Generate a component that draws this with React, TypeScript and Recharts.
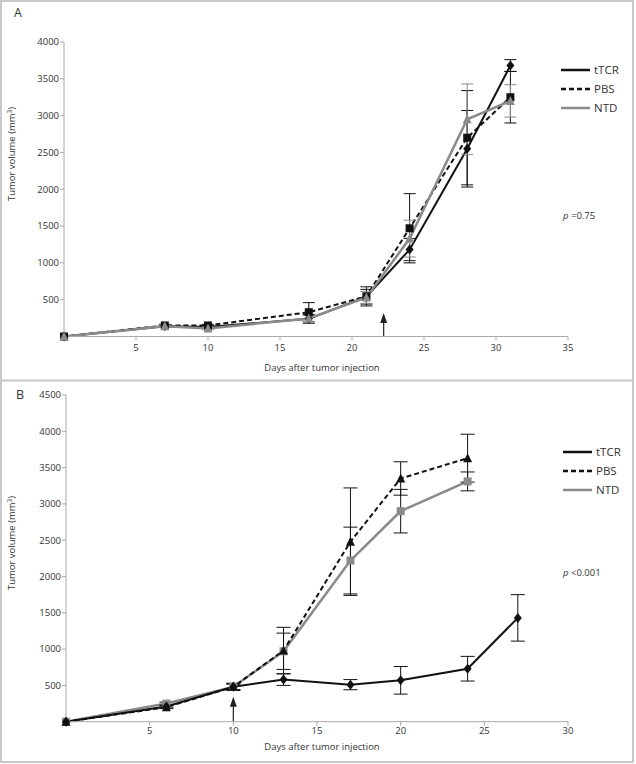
import { LineChart, Line, XAxis, YAxis, ErrorBar, ReferenceLine } from "recharts";

// Panel A
const daysA = [0, 7, 10, 17, 21, 24, 28, 31];
const tcrA = [0, 140, 130, 240, 540, 1180, 2550, 3680];
const tcrErrA = [0, 15, 15, 60, 100, 150, 520, 80];
const pbsA = [0, 150, 150, 330, 545, 1470, 2700, 3250];
const pbsErrA = [0, 15, 15, 130, 130, 470, 640, 350];
const ntdA = [0, 140, 110, 245, 530, 1330, 2950, 3200];
const ntdErrA = [0, 15, 20, 40, 80, 250, 480, 220];
const xTicksA = [5, 10, 15, 20, 25, 30, 35];
const yTicksA = [500, 1000, 1500, 2000, 2500, 3000, 3500, 4000];

// Panel B
const daysB = [0, 6, 10, 13, 17, 20, 24, 27];
const tcrB = [0, 210, 480, 580, 510, 570, 730, 1430];
const tcrErrB = [0, 20, 40, 80, 70, 190, 170, 320];
const daysB2 = [0, 6, 10, 13, 17, 20, 24];
const pbsB = [0, 200, 480, 980, 2480, 3350, 3630];
const pbsErrB = [0, 20, 40, 320, 740, 230, 330];
const ntdB = [0, 250, 480, 970, 2220, 2900, 3310];
const ntdErrB = [0, 20, 50, 250, 460, 300, 130];
const xTicksB = [5, 10, 15, 20, 25, 30];
const yTicksB = [500, 1000, 1500, 2000, 2500, 3000, 3500, 4000, 4500];

const legendNames = ["tTCR", "PBS", "NTD"];

const BLACK = "#111";
const GRAY = "#8a8a8a";
const AXIS = "#a8a8a8";
const TEXT = "#333";
const FONT = "'Open Sans', sans-serif";

const rows = (days: number[], v: number[], e: number[]) =>
  days.map((d, i) => ({ day: d, v: v[i], e: e[i] }));

const diamond = (color: string) => (p: any) => {
  const { cx, cy, index } = p;
  if (cx == null || cy == null) return <g key={`d${index}`} />;
  return (
    <path
      key={`d${index}`}
      d={`M${cx},${cy - 5}L${cx + 4},${cy}L${cx},${cy + 5}L${cx - 4},${cy}Z`}
      fill={color}
    />
  );
};
const square = (color: string) => (p: any) => {
  const { cx, cy, index } = p;
  if (cx == null || cy == null) return <g key={`s${index}`} />;
  return <rect key={`s${index}`} x={cx - 4} y={cy - 4} width={8} height={8} fill={color} />;
};
const triangle = (color: string) => (p: any) => {
  const { cx, cy, index } = p;
  if (cx == null || cy == null) return <g key={`t${index}`} />;
  return (
    <path key={`t${index}`} d={`M${cx},${cy - 5}L${cx + 4.5},${cy + 4}L${cx - 4.5},${cy + 4}Z`} fill={color} />
  );
};

const arrowShape = (p: any) => {
  const x = p.x1;
  const top = Math.min(p.y1, p.y2);
  const bottom = Math.max(p.y1, p.y2);
  return (
    <g>
      <line x1={x} y1={bottom} x2={x} y2={top + 6} stroke="#222" strokeWidth={1.2} />
      <path d={`M${x - 3.5},${top + 10}L${x},${top}L${x + 3.5},${top + 10}Z`} fill="#222" />
    </g>
  );
};

const tickStyle = { fontSize: 9.5, fill: TEXT, fontFamily: FONT };

function Legend({ x, y }: { x: number; y: number }) {
  const styles = [
    { stroke: BLACK, dash: undefined },
    { stroke: BLACK, dash: "5 3" },
    { stroke: GRAY, dash: undefined },
  ];
  return (
    <g>
      {legendNames.map((n, i) => (
        <g key={n}>
          <line
            x1={x}
            x2={x + 29}
            y1={y + i * 19}
            y2={y + i * 19}
            stroke={styles[i].stroke}
            strokeWidth={2.5}
            strokeDasharray={styles[i].dash}
          />
          <text x={x + 33} y={y + i * 19} dy="0.35em" fontSize={11.5} fill={TEXT} fontFamily={FONT}>
            {n}
          </text>
        </g>
      ))}
    </g>
  );
}

export default function App() {
  return (
    <div style={{ position: "absolute", left: 0, top: 0, width: 636, height: 764, background: "#fff" }}>
      <div style={{ position: "absolute", left: 0, top: 0 }}>
        <LineChart width={636} height={380} margin={{ top: 42, right: 68, left: 24, bottom: 13.5 }}>
          <XAxis
            type="number"
            dataKey="day"
            domain={[0, 35]}
            ticks={xTicksA}
            height={30}
            stroke={AXIS}
            tickSize={4}
            tickMargin={4}
            tick={tickStyle}
            allowDuplicatedCategory={false}
          />
          <YAxis
            type="number"
            domain={[0, 4000]}
            ticks={yTicksA}
            width={40}
            stroke={AXIS}
            tickSize={4}
            tickMargin={1}
            tick={tickStyle}
          />
          <ReferenceLine
            segment={[{ x: 22.2, y: 0 }, { x: 22.2, y: 320 }]}
            shape={arrowShape}
          />
          <Line data={rows(daysA, tcrA, tcrErrA)} dataKey="v" stroke={BLACK} strokeWidth={2} dot={diamond(BLACK)} isAnimationActive={false}>
            <ErrorBar dataKey="e" width={6} strokeWidth={1} stroke={BLACK} direction="y" />
          </Line>
          <Line data={rows(daysA, pbsA, pbsErrA)} dataKey="v" stroke={BLACK} strokeWidth={2} strokeDasharray="5 3" dot={square(BLACK)} isAnimationActive={false}>
            <ErrorBar dataKey="e" width={6} strokeWidth={1} stroke={BLACK} direction="y" />
          </Line>
          <Line data={rows(daysA, ntdA, ntdErrA)} dataKey="v" stroke={GRAY} strokeWidth={2.5} dot={triangle(GRAY)} isAnimationActive={false}>
            <ErrorBar dataKey="e" width={6} strokeWidth={1} stroke={GRAY} direction="y" />
          </Line>
        </LineChart>
      </div>
      <div style={{ position: "absolute", left: 0, top: 380 }}>
        <LineChart width={636} height={384} margin={{ top: 15, right: 68, left: 26, bottom: 12.3 }}>
          <XAxis
            type="number"
            dataKey="day"
            domain={[0, 30]}
            ticks={xTicksB}
            height={30}
            stroke={AXIS}
            tickSize={4}
            tickMargin={2}
            tick={tickStyle}
            allowDuplicatedCategory={false}
          />
          <YAxis
            type="number"
            domain={[0, 4500]}
            ticks={yTicksB}
            width={40}
            stroke={AXIS}
            tickSize={4}
            tickMargin={1}
            tick={tickStyle}
          />
          <ReferenceLine
            segment={[{ x: 10, y: 0 }, { x: 10, y: 345 }]}
            shape={arrowShape}
          />
          <Line data={rows(daysB2, ntdB, ntdErrB)} dataKey="v" stroke={GRAY} strokeWidth={2.5} dot={square(GRAY)} isAnimationActive={false}>
            <ErrorBar dataKey="e" width={7} strokeWidth={1} stroke={BLACK} direction="y" />
          </Line>
          <Line data={rows(daysB, tcrB, tcrErrB)} dataKey="v" stroke={BLACK} strokeWidth={2} dot={diamond(BLACK)} isAnimationActive={false}>
            <ErrorBar dataKey="e" width={7} strokeWidth={1} stroke={BLACK} direction="y" />
          </Line>
          <Line data={rows(daysB2, pbsB, pbsErrB)} dataKey="v" stroke={BLACK} strokeWidth={2} strokeDasharray="5 3" dot={triangle(BLACK)} isAnimationActive={false}>
            <ErrorBar dataKey="e" width={7} strokeWidth={1} stroke={BLACK} direction="y" />
          </Line>
        </LineChart>
      </div>
      <svg
        width={636}
        height={764}
        style={{ position: "absolute", left: 0, top: 0, pointerEvents: "none" }}
      >
        <rect x={1} y={1} width={632} height={761} fill="none" stroke="#c8c8c8" strokeWidth={2} />
        <line x1={0} x2={633} y1={380.5} y2={380.5} stroke="#c8c8c8" strokeWidth={2} />
        <text x={18} y={13} dy="0.35em" textAnchor="middle" fontSize={12.5} fill={TEXT} fontFamily={FONT}>A</text>
        <text x={20} y={395} dy="0.35em" textAnchor="middle" fontSize={12.5} fill={TEXT} fontFamily={FONT}>B</text>
        <text transform="translate(12,154) rotate(-90)" textAnchor="middle" dy="0.35em" fontSize={9.5} fill={TEXT} fontFamily={FONT}>
          Tumor volume (mm<tspan dy="-3" fontSize={6.5}>3</tspan><tspan dy="3">)</tspan>
        </text>
        <text transform="translate(12,543) rotate(-90)" textAnchor="middle" dy="0.35em" fontSize={9.5} fill={TEXT} fontFamily={FONT}>
          Tumor volume (mm<tspan dy="-3" fontSize={6.5}>3</tspan><tspan dy="3">)</tspan>
        </text>
        <text x={322} y={368} dy="0.35em" textAnchor="middle" fontSize={9.5} fill={TEXT} fontFamily={FONT}>Days after tumor injection</text>
        <text x={322} y={746.5} dy="0.35em" textAnchor="middle" fontSize={9.5} fill={TEXT} fontFamily={FONT}>Days after tumor injection</text>
        <Legend x={561} y={70} />
        <Legend x={563} y={452} />
        <text x={563} y={216} dy="0.35em" fontSize={9.5} fill={TEXT} fontFamily={FONT}>
          <tspan fontStyle="italic">p</tspan> =0.75
        </text>
        <text x={563} y={573} dy="0.35em" fontSize={9.5} fill={TEXT} fontFamily={FONT}>
          <tspan fontStyle="italic">p</tspan> &lt;0.001
        </text>
      </svg>
    </div>
  );
}
